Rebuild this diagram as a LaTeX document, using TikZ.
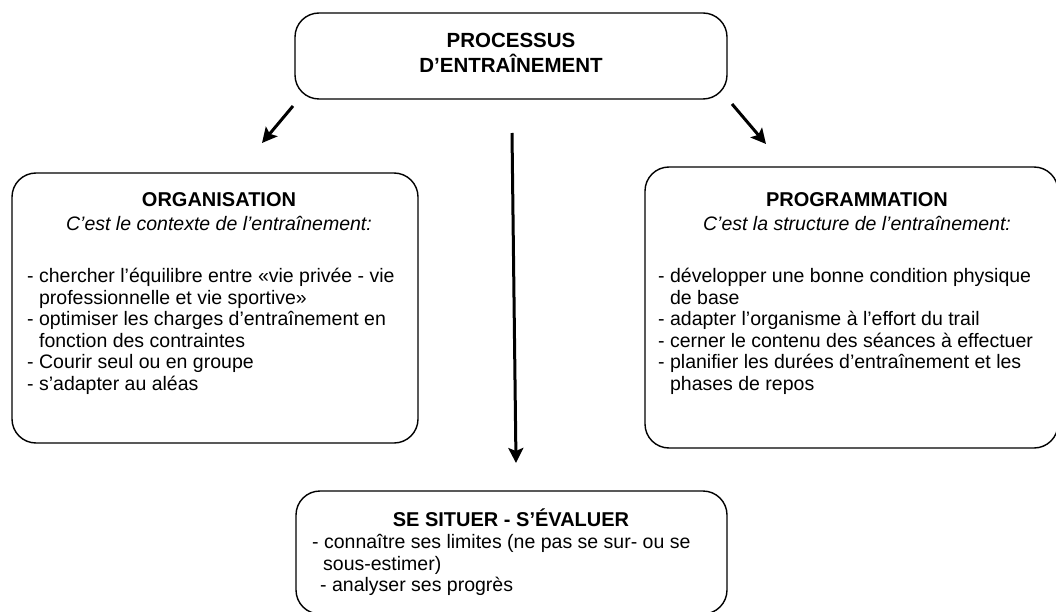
\documentclass[tikz,border=0pt]{standalone}
\usepackage{fontspec}
\setmainfont{Liberation Sans}
\usetikzlibrary{arrows.meta}

\begin{document}
\begin{tikzpicture}[x=1pt,y=-1pt,
    boite/.style={draw=black, line width=1.4pt, rounded corners=24pt, inner sep=0pt},
    fleche/.style={line width=3pt, -{Stealth[length=15pt,width=15pt,inset=3pt]}},
    liste/.style={inner sep=0pt, align=left, anchor=north west, font=\fontsize{19.5}{21.6}\selectfont},
    entete/.style={inner sep=0pt, align=center, anchor=north, font=\fontsize{19.5}{24}\selectfont}]
  \useasboundingbox (0,0) rectangle (1056,612);

  % les boites
  \node [boite, minimum width=432pt, minimum height=86pt] (processus) at (511,56) {};
  \node [boite, minimum width=406pt, minimum height=270pt] (organisation) at (215,308) {};
  \node [boite, minimum width=413pt, minimum height=281pt] (programmation) at (851.5,307.5) {};
  \node [boite, minimum width=431pt, minimum height=123pt] (situer) at (511.5,552.5) {};

  % les textes
  \node [inner sep=0pt, align=center, font=\bfseries\fontsize{20.5}{25}\selectfont] (processustxt) at (511,53)
    {PROCESSUS\\D’ENTRAÎNEMENT};
  \node [entete] (organisationtxt) at (219,192)
    {{\bfseries\fontsize{20}{24}\selectfont ORGANISATION}\\\itshape C’est le contexte de l’entraînement:};
  \node [liste] (organisationliste) at (27,268)
    {- chercher l’équilibre entre «vie privée - vie\\
     \hphantom{- }professionnelle et vie sportive»\\
     - optimiser les charges d’entraînement en\\
     \hphantom{- }fonction des contraintes\\
     - Courir seul ou en groupe\\
     - s’adapter au aléas};
  \node [entete] (programmationtxt) at (857,192)
    {{\bfseries\fontsize{20}{24}\selectfont PROGRAMMATION}\\\itshape C’est la structure de l’entraînement:};
  \node [liste] (programmationliste) at (658,268)
    {- développer une bonne condition physique\\
     \hphantom{- }de base\\
     - adapter l’organisme à l’effort du trail\\
     - cerner le contenu des séances à effectuer\\
     - planifier les durées d’entraînement et les\\
     \hphantom{- }phases de repos};
  \node [inner sep=0pt, anchor=base, font=\bfseries\fontsize{20}{24}\selectfont] (situertxt) at (511,526)
    {SE SITUER - S’ÉVALUER};
  \node [liste] (situerliste) at (312,534)
    {- connaître ses limites (ne pas se sur- ou se\\
     \hspace*{11pt}sous-estimer)\\
     \hspace*{8pt}- analyser ses progrès};

  % les fleches
  \coordinate (gauchedep) at (293,106);
  \coordinate (gauchearr) at (262,143);
  \coordinate (milieudep) at (512,133);
  \coordinate (milieuarr) at (516,463);
  \coordinate (droitedep) at (732,104);
  \coordinate (droitearr) at (766,144);
  \draw [fleche] (gauchedep) -- (gauchearr);
  \draw [fleche] (milieudep) -- (milieuarr);
  \draw [fleche] (droitedep) -- (droitearr);
\end{tikzpicture}
\end{document}
